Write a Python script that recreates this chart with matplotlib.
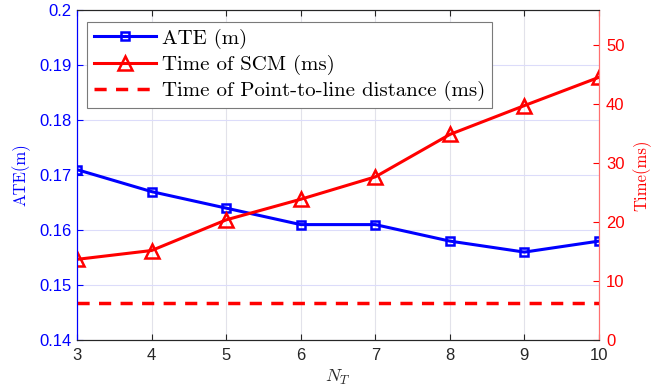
import matplotlib.pyplot as plt
import numpy as np

# data
n_t = [3, 4, 5, 6, 7, 8, 9, 10]
ate = [0.171, 0.167, 0.164, 0.161, 0.161, 0.158, 0.156, 0.158]
time_scm = [13.7, 15.2, 20.4, 23.9, 27.7, 34.9, 39.8, 44.6]
time_p2l = [6.3, 6.3, 6.3, 6.3, 6.3, 6.3, 6.3, 6.3]

plt.rcParams['font.family'] = ['Liberation Sans', 'DejaVu Sans']
plt.rcParams['mathtext.fontset'] = 'cm'

blue = (0, 0, 1)
red = (1, 0, 0)

fig = plt.figure(figsize=(6.67, 3.9), dpi=100)
ax1 = fig.add_axes([0.1154, 0.128, 0.7826, 0.846])
ax2 = ax1.twinx()

l1, = ax1.plot(n_t, ate, '-s', color=blue, lw=2.2, ms=6, mfc='none', mew=1.8)
l2, = ax2.plot(n_t, time_scm, '-^', color=red, lw=2.2, ms=10, mfc='none', mew=1.8)
l3, = ax2.plot(n_t, time_p2l, '--', color=red, lw=2.5, dashes=(3.5, 2.7))

ax1.set_xlim(3, 10)
ax1.set_ylim(0.14, 0.2)
ax1.set_yticks(np.arange(0.14, 0.2001, 0.01))
ax1.set_yticklabels(['0.14', '0.15', '0.16', '0.17', '0.18', '0.19', '0.2'])
ax2.set_ylim(0, 56)
ax2.set_yticks([0, 10, 20, 30, 40, 50])

ax1.grid(True, axis='x', color='#e2e2ea', lw=0.8)
ax1.grid(True, axis='y', color='#dcdcfa', lw=0.8)
ax1.set_axisbelow(True)

ax1.tick_params(axis='x', direction='in', top=True, colors='#262626', labelsize=12, length=4, pad=6)
ax1.tick_params(axis='y', direction='in', colors=blue, labelsize=12, length=4, pad=4)
ax2.tick_params(axis='y', direction='in', colors=red, labelsize=12, length=4, pad=5)

for ax in (ax1, ax2):
    ax.spines['top'].set_color('#262626')
    ax.spines['bottom'].set_color('#262626')
    ax.spines['left'].set_color(blue)
    ax.spines['right'].set_color('#ff7070')
    for s in ax.spines.values():
        s.set_linewidth(0.8)

ax1.set_xlabel(r'$N_T$', fontsize=13, color='#262626', labelpad=3)
ax1.set_ylabel('ATE(m)', family='cmr10', fontsize=12, color=blue, labelpad=6)
ax2.set_ylabel('Time(ms)', family='cmr10', fontsize=12, color=red, labelpad=6)

leg = ax2.legend([l1, l2, l3],
                 ['ATE (m)', 'Time of SCM (ms)', 'Time of Point-to-line distance (ms)'],
                 loc='upper left', bbox_to_anchor=(0.02, 0.963),
                 prop={'family': 'cmr10', 'size': 15},
                 fancybox=False, framealpha=1, edgecolor='#7a7a7a',
                 handlelength=3.0, handletextpad=0.3, labelspacing=0.3,
                 borderpad=0.3, borderaxespad=0.0)
leg.get_frame().set_linewidth(0.8)

fig.savefig('out.png', dpi=100)
